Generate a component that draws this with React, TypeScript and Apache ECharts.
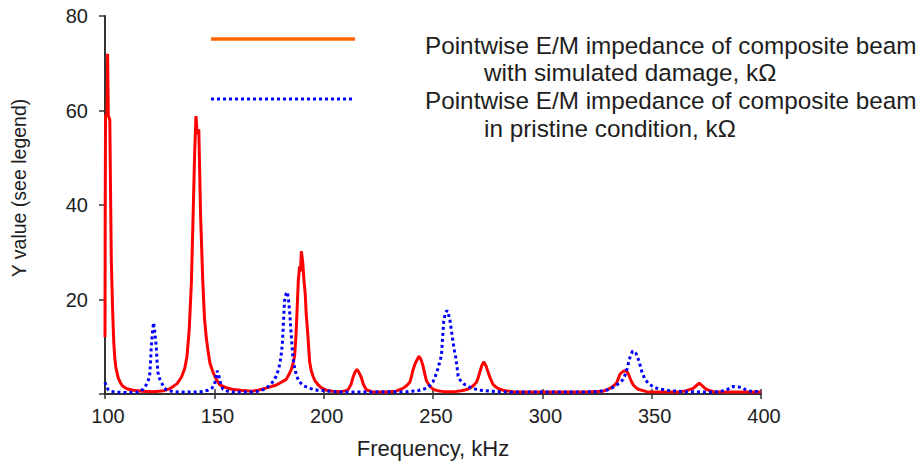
import React, { useEffect, useRef } from "react";
import * as echarts from "echarts";

// Frequency (kHz) / impedance (kΩ) pairs
const damagedBeam: [number, number][] = [
  [100, 12], [100.1, 40], [100.25, 59], [100.9, 59], [101.2, 72], [101.5, 59], [102.2, 58], [102.6, 40],
  [102.9, 28], [103.5, 17.5], [104, 11], [104.5, 7.5], [105, 5.5], [106, 3.5], [107, 2.4], [108, 1.7],
  [110, 1.1], [113, 0.8],
  [117, 0.6], [122, 0.5], [127, 0.7], [130, 1.2], [133, 2.2], [135, 3.6], [136.5, 5.5], [137.5, 8],
  [138.5, 13.5], [139.5, 23.5], [140.2, 36], [141, 51], [141.6, 58.8], [142.2, 55], [142.9, 56],
  [143.7, 38], [144.7, 24], [145.5, 16], [146.3, 12], [147, 9.5], [148, 6.5], [149.4, 4.6], [151, 3],
  [152.4, 2], [155, 1.4], [158, 1], [162, 0.8], [167, 0.6], [170, 0.8], [174, 1.3], [178.4, 1.9],
  [181, 2.6], [182.9, 3.1], [184, 4], [185.2, 5.2], [186, 6.5], [186.7, 8], [187.3, 12], [187.8, 17.3],
  [188.4, 24], [189, 27], [189.4, 26], [189.8, 30.2], [190.4, 28], [191, 24], [191.6, 21], [192, 17],
  [192.8, 12.3], [193.6, 6.7], [194.3, 5], [195.1, 3.8], [196, 2.8], [197.4, 2], [199, 1.3],
  [201.2, 0.8], [204, 0.6], [208, 0.5], [211, 0.8], [212.5, 2], [213.4, 3.5], [214.3, 4.6],
  [215.2, 5.2], [216.1, 4.6], [217.2, 3.5], [218.2, 2], [219.5, 0.9], [222, 0.5], [228, 0.4],
  [233, 0.6], [236.3, 1.2], [238, 1.8], [239.4, 2.5], [240.2, 3.8], [240.9, 5.2], [242, 6.6],
  [243.6, 8], [244.5, 7.3], [245.4, 6], [246.2, 4.3], [247, 2.8], [248.5, 1.7], [250, 1], [252, 0.7],
  [255, 0.5], [260, 0.5], [263, 0.7], [265, 0.9], [266.8, 1.2], [268.5, 1.8], [269.9, 2.5],
  [270.7, 3.5], [271.4, 4.6], [272.3, 6], [273.2, 6.8], [274.2, 6], [275.2, 4.6], [276.3, 3.2],
  [277.5, 2], [279, 1.4], [280.5, 1], [283, 0.7], [286.5, 0.5], [295, 0.4], [305, 0.4], [315, 0.4],
  [322, 0.5], [327.9, 0.6], [330, 1], [331.7, 1.4], [333, 1.9], [334, 2.4], [334.8, 3.3], [335.5, 4.2],
  [337, 4.8], [338.2, 5], [339.2, 4.4], [340, 3.5], [340.8, 2.6], [341.6, 1.9], [343, 1.3],
  [343.8, 1], [347.7, 0.5], [355, 0.4], [362, 0.4], [366, 0.7], [369, 1.2], [370.5, 1.8],
  [371.8, 2.3], [373, 1.8], [374.4, 1.2], [376, 0.8], [378.2, 0.5], [385, 0.4], [392, 0.4], [400, 0.4],
];

const pristineBeam: [number, number][] = [
  [100, 2.5], [100.7, 1.5], [101.5, 0.9], [102.4, 0.6], [105, 0.4], [110, 0.3], [115, 0.4],
  [117.5, 1], [118.8, 1.9], [119.7, 2.8], [120.4, 3.8], [120.8, 6.5], [121.1, 9.5], [121.6, 12.5],
  [122.2, 15.1], [122.8, 13], [123.4, 10.2], [123.8, 7], [124.2, 4.6], [125, 3.2], [125.7, 2.5],
  [127, 1.4], [128, 0.9], [131, 0.5], [136, 0.4], [140, 0.4], [144, 0.5], [147, 0.8], [149, 1.3],
  [150.1, 2], [150.7, 3.5], [151.3, 4.9], [152, 4], [152.4, 3], [153.2, 1.8], [153.9, 1], [156, 0.6],
  [160, 0.4], [166, 0.4], [170, 0.6], [173, 1], [175, 1.7], [177, 2.7], [178.3, 3.8], [179.2, 5],
  [179.9, 6.3], [180.5, 8], [181.1, 10.5], [181.6, 15], [182.1, 19.7], [182.8, 21.2], [183.4, 21.6],
  [183.9, 20], [184.4, 17.6], [185.2, 12.3], [185.9, 8], [186.5, 6], [187.2, 4.6], [188, 3.4],
  [189, 2.5], [191, 1.7], [193.6, 1.2], [197, 0.8], [202, 0.6], [210, 0.4], [220, 0.4], [230, 0.5],
  [238, 0.5], [243, 0.7], [245.5, 1], [247, 1.2], [248.5, 1.8], [250, 2.6], [251, 3.6], [251.6, 4.6],
  [252.3, 5.4], [252.8, 6.3], [253.4, 7.3], [253.9, 8.4], [254.4, 12], [254.9, 15.4], [255.6, 17],
  [256.4, 17.7], [257, 17], [257.7, 15.8], [258.4, 13.5], [259.2, 10.9], [259.8, 9.2], [260.4, 7.7],
  [261, 5.7], [261.5, 3.8], [262.5, 2.9], [264.5, 2], [266.5, 1.5], [268.3, 1.2], [271, 0.8],
  [276, 0.6], [285, 0.4], [300, 0.4], [315, 0.4], [325, 0.5], [330.1, 0.9], [332, 1.3], [334, 1.9],
  [335.6, 2.5], [337, 3.1], [337.8, 4], [338.5, 4.9], [339.1, 6], [339.7, 7.2], [340.5, 8.3],
  [341.3, 9.1], [342, 8.9], [342.8, 8.6], [343.6, 7.7], [344.3, 6.8], [345.4, 4.9], [346.9, 3.1],
  [348.5, 2.3], [350.4, 1.6], [352.5, 1.2], [354.6, 1], [358, 0.7], [365, 0.5], [375, 0.4],
  [381, 0.5], [384, 0.8], [386, 1.3], [387.3, 1.6], [389, 1.5], [391.2, 1.4], [393, 0.9], [395, 0.6],
  [400, 0.5],
];

const legendLines = [
  "Pointwise E/M impedance of composite beam",
  "with simulated damage, kΩ",
  "Pointwise E/M impedance of composite beam",
  "in pristine condition, kΩ",
];

const xAxisTitle = "Frequency, kHz";
const yAxisTitle = "Y value (see legend)";

const FONT = '"Liberation Sans", Arial, Helvetica, sans-serif';
const AXIS = "#333333";
const TEXT = "#1e1e1e";

export default function App() {
  const ref = useRef<HTMLDivElement>(null);

  useEffect(() => {
    if (!ref.current) return;
    const chart = echarts.init(ref.current, null, { renderer: "svg" });
    chart.setOption({
      animation: false,
      backgroundColor: "#ffffff",
      grid: { left: 105, right: 162, top: 16, bottom: 71, containLabel: false, outerBoundsMode: "none" },
      xAxis: [
        {
          type: "value",
          min: 100,
          max: 400,
          interval: 50,
          axisLine: { show: true, lineStyle: { color: AXIS, width: 2 } },
          axisTick: { show: true, length: 5, lineStyle: { color: AXIS, width: 1.5 } },
          axisLabel: { fontSize: 20, margin: 12, color: TEXT, fontFamily: FONT, padding: [0, 0, 0, 6] },
          splitLine: { show: false },
          name: xAxisTitle,
          nameLocation: "middle",
          nameGap: 43,
          nameTextStyle: { fontSize: 22, color: TEXT, fontFamily: FONT },
        },
        {
          type: "value",
          min: 100,
          max: 400,
          interval: 50,
          position: "bottom",
          axisLine: { show: false },
          axisTick: { show: true, inside: true, length: 5, lineStyle: { color: AXIS, width: 1.5 } },
          axisLabel: { show: false },
          splitLine: { show: false },
        },
      ],
      yAxis: {
        type: "value",
        min: 0,
        max: 80,
        interval: 20,
        axisLine: { show: true, lineStyle: { color: AXIS, width: 2 } },
        axisTick: { show: true, length: 6, lineStyle: { color: AXIS, width: 1.5 } },
        axisLabel: {
          fontSize: 20,
          margin: 17,
          color: TEXT,
          fontFamily: FONT,
          padding: [5, 0, 0, 0],
          formatter: (v: number) => (v === 0 ? "" : String(v)),
        },
        splitLine: { show: false },
      },
      series: [
        {
          name: legendLines[0],
          type: "line",
          data: damagedBeam,
          symbol: "none",
          lineStyle: { color: "#ff0000", width: 3 },
          itemStyle: { color: "#ff0000" },
        },
        {
          name: legendLines[2],
          type: "line",
          data: pristineBeam,
          symbol: "none",
          lineStyle: { color: "#0000ff", width: 3, type: [3, 3] },
          itemStyle: { color: "#0000ff" },
        },
      ],
      graphic: [
        {
          type: "line",
          shape: { x1: 211, y1: 39, x2: 355, y2: 39 },
          style: { stroke: "#ff6600", lineWidth: 3.5 },
        },
        {
          type: "line",
          shape: { x1: 211, y1: 99, x2: 355, y2: 99 },
          style: { stroke: "#0000ff", lineWidth: 3, lineDash: [3, 3] },
        },
        { type: "text", x: 425, y: 45, style: { text: legendLines[0], fontSize: 24.3, fontFamily: FONT, fill: TEXT, verticalAlign: "middle" } },
        { type: "text", x: 484, y: 72, style: { text: legendLines[1], fontSize: 24.3, fontFamily: FONT, fill: TEXT, verticalAlign: "middle" } },
        { type: "text", x: 425, y: 100, style: { text: legendLines[2], fontSize: 24.3, fontFamily: FONT, fill: TEXT, verticalAlign: "middle" } },
        { type: "text", x: 484, y: 128, style: { text: legendLines[3], fontSize: 24.3, fontFamily: FONT, fill: TEXT, verticalAlign: "middle" } },
        {
          type: "text",
          x: 19,
          y: 188,
          rotation: Math.PI / 2,
          style: { text: yAxisTitle, fontSize: 19.5, fontFamily: FONT, fill: TEXT, align: "center", verticalAlign: "middle" },
        },
      ],
    });
    return () => chart.dispose();
  }, []);

  return <div ref={ref} style={{ position: "absolute", left: 0, top: 0, width: 923, height: 465 }} />;
}
